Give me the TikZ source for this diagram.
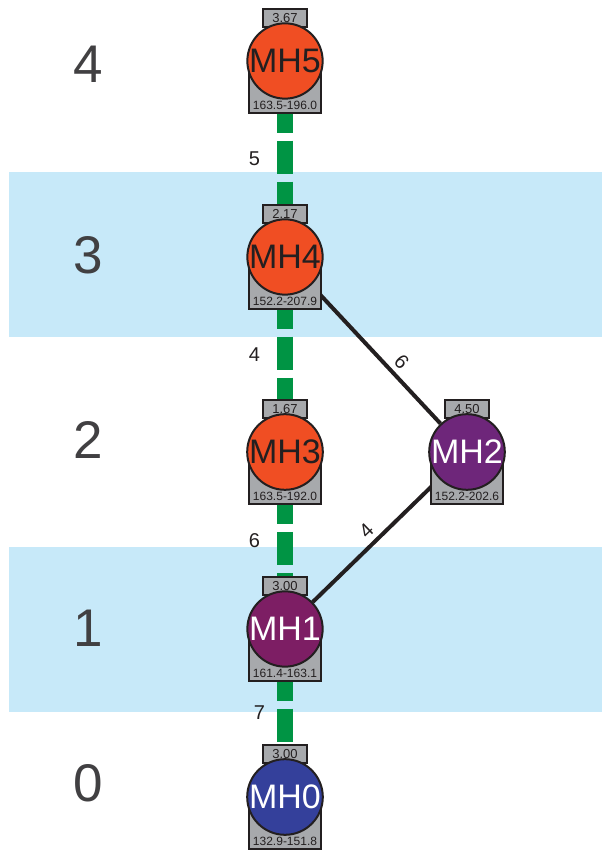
\documentclass[tikz,border=0pt]{standalone}
\usepackage{fontspec}
\setmainfont{Liberation Sans}
\usepackage{tikz}
\usetikzlibrary{calc}
\definecolor{hotred}{RGB}{240,78,35}
\definecolor{plum}{RGB}{125,30,100}
\definecolor{violet}{RGB}{110,38,122}
\definecolor{navy}{RGB}{52,64,155}
\definecolor{boxgray}{RGB}{167,169,172}
\definecolor{ink}{RGB}{35,31,32}
\definecolor{pipegreen}{RGB}{0,148,68}
\definecolor{bandblue}{RGB}{199,233,249}
\definecolor{levelgray}{RGB}{65,64,66}
\pgfdeclarelayer{back}
\pgfdeclarelayer{background}
\pgfsetlayers{back,background,main}
\tikzset{
  hole/.style={circle,draw=ink,line width=2pt,minimum size=73pt,inner sep=0pt,
    font=\fontsize{34}{34}\selectfont},
  topbox/.style={rectangle,draw=ink,fill=boxgray,line width=2pt,minimum width=44pt,
    minimum height=18pt,inner sep=0pt,font=\fontsize{13}{13}\selectfont,text=ink},
  bodybox/.style={draw=ink,fill=boxgray,line width=2pt},
  rangetxt/.style={inner sep=0pt,font=\fontsize{12}{12}\selectfont,text=ink},
  level/.style={text=levelgray,font=\fontsize{53}{53}\selectfont},
  sewer/.style={pipegreen,line width=16pt,dash pattern=on 33pt off 8pt},
  link/.style={ink,line width=4pt},
  pipelab/.style={inner sep=0pt,font=\fontsize{20}{20}\selectfont,text=ink}
}
% manhole: name, position, fill, text colour, label, depth, range
\newcommand{\manhole}[7]{
\node[topbox] (#1top) at ($(#2)+(0,43)$) {#6};
\draw[bodybox] ($(#2)+(-36,0)$) rectangle ($(#2)+(36,-52)$);
\node[hole,fill=#3,text=#4] (#1) at (#2) {#5};
\node[rangetxt] (#1rng) at ($(#2)+(0,-44)$) {#7};
}

\begin{document}
\begin{tikzpicture}[x=1pt,y=1pt]
\useasboundingbox (0,0) rectangle (602,853);
\begin{pgfonlayer}{back}
\fill[bandblue] (9,516) rectangle (602,681);
\fill[bandblue] (9,141) rectangle (602,306);
\end{pgfonlayer}
\node[level] (lev4) at (88,789) {4};
\node[level] (lev3) at (88,598) {3};
\node[level] (lev2) at (88,413) {2};
\node[level] (lev1) at (88,225) {1};
\node[level] (lev0) at (88,70) {0};
\manhole{mh5}{285,792}{hotred}{ink}{MH5}{3.67}{163.5-196.0}
\manhole{mh4}{285,596}{hotred}{ink}{MH4}{2.17}{152.2-207.9}
\manhole{mh3}{285,401}{hotred}{ink}{MH3}{1.67}{163.5-192.0}
\manhole{mh2}{467,401}{violet}{white}{MH2}{4.50}{152.2-202.6}
\manhole{mh1}{285,224}{plum}{white}{MH1}{3.00}{161.4-163.1}
\manhole{mh0}{285,56}{navy}{white}{MH0}{3.00}{132.9-151.8}
\begin{pgfonlayer}{background}
\draw[sewer] (mh5) -- (mh4) node[pipelab,midway,left=17pt] {5};
\draw[sewer] (mh4) -- (mh3) node[pipelab,midway,left=17pt] {4};
\draw[sewer] (mh3) -- (mh1) node[pipelab,midway,left=17pt] {6};
\draw[sewer] (mh1) -- (mh0) node[pipelab,midway,left=12pt] {7};
\draw[link] (mh4) -- (mh2) node[pipelab,pos=0.62,sloped,above=5pt] {6};
\draw[link] (mh1) -- (mh2) node[pipelab,midway,sloped,above=5pt] {4};
\end{pgfonlayer}
\end{tikzpicture}
\end{document}
